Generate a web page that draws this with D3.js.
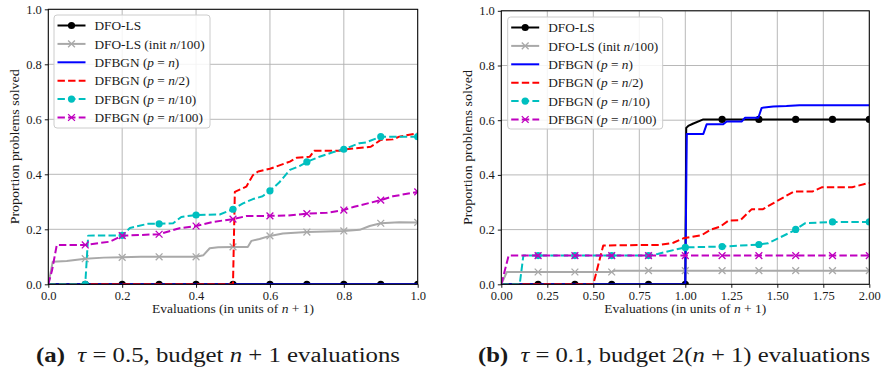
<!DOCTYPE html>
<html><head><meta charset="utf-8">
<script src="https://cdn.jsdelivr.net/npm/d3@7"></script>
<style>
body{margin:0;background:#fff}
svg{display:block}
text{font-family:"Liberation Serif","Times New Roman",serif;fill:#1a1a1a}
</style>
</head><body>
<svg id="chart" width="881" height="368"></svg>
<script>
// ---------- data ----------
const seriesLabels = [
  "DFO-LS",
  "DFO-LS (init <i>n</i>/100)",
  "DFBGN (<i>p</i> = <i>n</i>)",
  "DFBGN (<i>p</i> = <i>n</i>/2)",
  "DFBGN (<i>p</i> = <i>n</i>/10)",
  "DFBGN (<i>p</i> = <i>n</i>/100)"
];
const seriesColors = ["#000000", "#a9a9a9", "#0000ff", "#ff0000", "#00bfbf", "#bf00bf"];
const seriesDash = [null, null, null, "7.4,3.2", "7.4,3.2", "7.4,3.2"];
const seriesMarker = ["o", "x", null, null, "o", "x"];

const yTicks = [0, 0.2, 0.4, 0.6, 0.8, 1.0];
const xTicksA = [0, 0.2, 0.4, 0.6, 0.8, 1.0];
const xTicksB = [0, 0.25, 0.5, 0.75, 1.0, 1.25, 1.5, 1.75, 2.0];
const markerXA = [0.1, 0.2, 0.3, 0.4, 0.5, 0.6, 0.7, 0.8, 0.9, 1.0];
const markerXB = [0.2, 0.4, 0.6, 0.8, 1.0, 1.2, 1.4, 1.6, 1.8, 2.0];

// panel (a): tau = 0.5, budget n+1
const a_dfols = [[0,0],[1,0]];
const a_dfolsInit = [[0,0],[0.012,0.082],[0.05,0.085],[0.1,0.093],[0.15,0.097],[0.2,0.098],[0.25,0.1],[0.3,0.1],[0.4,0.1],[0.42,0.106],[0.437,0.131],[0.46,0.135],[0.5,0.136],[0.54,0.136],[0.55,0.158],[0.572,0.165],[0.6,0.176],[0.635,0.185],[0.7,0.19],[0.8,0.194],[0.843,0.198],[0.87,0.212],[0.9,0.222],[0.95,0.226],[1.0,0.225]];
const a_dfbgnN = [[0,0],[1,0]];
const a_dfbgnHalf = [[0,0],[0.5,0],[0.505,0.336],[0.536,0.355],[0.554,0.397],[0.568,0.41],[0.6,0.42],[0.654,0.446],[0.672,0.46],[0.708,0.464],[0.72,0.486],[0.788,0.486],[0.806,0.491],[0.873,0.5],[0.9,0.525],[0.933,0.527],[0.95,0.537],[1.0,0.549]];
const a_dfbgnTenth = [[0,0],[0.1,0],[0.108,0.177],[0.2,0.178],[0.221,0.205],[0.27,0.22],[0.3,0.22],[0.338,0.222],[0.36,0.245],[0.4,0.252],[0.464,0.254],[0.5,0.273],[0.527,0.294],[0.554,0.31],[0.58,0.32],[0.6,0.34],[0.625,0.37],[0.654,0.416],[0.68,0.43],[0.7,0.445],[0.734,0.464],[0.77,0.48],[0.8,0.491],[0.842,0.513],[0.86,0.516],[0.9,0.537],[1.0,0.537]];
const a_dfbgnHundredth = [[0,0],[0.01,0.05],[0.023,0.143],[0.1,0.143],[0.167,0.155],[0.2,0.177],[0.3,0.182],[0.355,0.204],[0.4,0.212],[0.446,0.227],[0.5,0.237],[0.536,0.248],[0.6,0.249],[0.65,0.25],[0.7,0.257],[0.754,0.26],[0.8,0.27],[0.828,0.282],[0.9,0.306],[0.933,0.32],[1.0,0.336]];

// panel (b): tau = 0.1, budget 2(n+1)
const b_dfols = [[0,0],[1.0,0],[1.005,0.572],[1.016,0.579],[1.044,0.588],[1.098,0.603],[2.0,0.603]];
const b_dfolsInit = [[0,0],[0.03,0.045],[0.6,0.045],[0.618,0.05],[2.0,0.05]];
const b_dfbgnN = [[0,0],[1.0,0],[1.008,0.55],[1.098,0.55],[1.116,0.585],[1.206,0.585],[1.225,0.595],[1.306,0.595],[1.325,0.609],[1.397,0.609],[1.415,0.645],[1.478,0.65],[1.55,0.652],[1.62,0.655],[2.0,0.655]];
const b_dfbgnHalf = [[0,0],[0.5,0],[0.554,0.142],[0.7,0.143],[0.862,0.144],[0.935,0.152],[0.989,0.168],[1.09,0.18],[1.135,0.199],[1.19,0.211],[1.235,0.233],[1.3,0.235],[1.36,0.274],[1.42,0.274],[1.492,0.302],[1.59,0.339],[1.69,0.339],[1.744,0.355],[1.907,0.355],[1.988,0.369],[2.0,0.37]];
const b_dfbgnTenth = [[0,0],[0.1,0],[0.12,0.105],[0.8,0.105],[0.85,0.111],[0.935,0.125],[1.0,0.135],[1.197,0.138],[1.395,0.145],[1.45,0.15],[1.59,0.196],[1.65,0.223],[1.79,0.228],[2.0,0.228]];
const b_dfbgnHundredth = [[0,0],[0.04,0.105],[2.0,0.105]];

const captionA = ["<b>(a)</b>", "\u2002", "<i>τ</i>", " = 0.5, budget ", "<i>n</i>", " + 1 evaluations"];
const captionB = ["<b>(b)</b>", "\u2002", "<i>τ</i>", " = 0.1, budget 2(", "<i>n</i>", " + 1) evaluations"];

// ---------- drawing ----------
const svg = d3.select("#chart");

function addRich(sel, markup) {
  const parts = markup.split(/(<i>.*?<\/i>|<b>.*?<\/b>)/).filter(s => s.length);
  parts.forEach(p => {
    const t = sel.append("tspan");
    if (p.startsWith("<i>")) t.attr("font-style", "italic").text(p.slice(3, -4));
    else if (p.startsWith("<b>")) t.attr("font-weight", "bold").text(p.slice(3, -4));
    else t.text(p);
  });
}

function interpY(data, x) {
  for (let i = 1; i < data.length; i++) {
    if (x <= data[i][0] + 1e-9) {
      const [x0, y0] = data[i - 1], [x1, y1] = data[i];
      return x1 === x0 ? y1 : y0 + (y1 - y0) * (x - x0) / (x1 - x0);
    }
  }
  return data[data.length - 1][1];
}

function drawMarker(g, kind, color, cx, cy) {
  if (kind === "o") {
    g.append("circle").attr("cx", cx).attr("cy", cy).attr("r", 3.6).attr("fill", color);
  } else if (kind === "x") {
    const s = 3.4;
    g.append("path").attr("d", `M${cx - s},${cy - s}L${cx + s},${cy + s}M${cx - s},${cy + s}L${cx + s},${cy - s}`)
      .attr("stroke", color).attr("stroke-width", 1.3).attr("fill", "none");
  }
}

function panel(cfg) {
  const x = d3.scaleLinear().domain(cfg.xDomain).range([cfg.left, cfg.right]);
  const y = d3.scaleLinear().domain([0, 1]).range([cfg.bottom, cfg.top]);
  const g = svg.append("g");

  // grid
  const grid = g.append("g");
  cfg.xTicks.forEach(t => grid.append("line").attr("x1", x(t)).attr("x2", x(t)).attr("y1", cfg.top).attr("y2", cfg.bottom)
    .attr("stroke", "#b0b0b0").attr("stroke-width", 0.9));
  yTicks.forEach(t => grid.append("line").attr("x1", cfg.left).attr("x2", cfg.right).attr("y1", y(t)).attr("y2", y(t))
    .attr("stroke", "#b0b0b0").attr("stroke-width", 0.9));

  // clip
  const clipId = "clip" + cfg.id;
  svg.append("clipPath").attr("id", clipId).append("rect")
    .attr("x", cfg.left).attr("y", cfg.top).attr("width", cfg.right - cfg.left).attr("height", cfg.bottom - cfg.top);
  const plot = g.append("g").attr("clip-path", `url(#${clipId})`);
  const line = d3.line().x(d => x(d[0])).y(d => y(d[1]));

  cfg.series.forEach((data, i) => {
    const sg = plot.append("g");
    const p = sg.append("path").attr("d", line(data)).attr("fill", "none")
      .attr("stroke", seriesColors[i]).attr("stroke-width", 2).attr("stroke-linejoin", "round");
    if (seriesDash[i]) p.attr("stroke-dasharray", seriesDash[i]);
    if (seriesMarker[i]) {
      cfg.markerX.forEach(mx => drawMarker(sg, seriesMarker[i], seriesColors[i], x(mx), y(interpY(data, mx))));
    }
  });

  // axes
  const xAxis = d3.axisBottom(x).tickValues(cfg.xTicks).tickFormat(d3.format(cfg.xFmt)).tickSize(3.5).tickPadding(3);
  const yAxis = d3.axisLeft(y).tickValues(yTicks).tickFormat(d3.format(".1f")).tickSize(3.5).tickPadding(3);
  const gx = g.append("g").attr("transform", `translate(0,${cfg.bottom})`).call(xAxis);
  const gy = g.append("g").attr("transform", `translate(${cfg.left},0)`).call(yAxis);
  [gx, gy].forEach(a => {
    a.attr("font-family", null);
    a.select(".domain").remove();
    a.selectAll("line").attr("stroke", "#000").attr("stroke-width", 0.9);
    a.selectAll("text").attr("font-size", 12.5).attr("fill", "#222");
  });
  g.append("rect").attr("x", cfg.left).attr("y", cfg.top).attr("width", cfg.right - cfg.left).attr("height", cfg.bottom - cfg.top)
    .attr("fill", "none").attr("stroke", "#000").attr("stroke-width", 1);

  // axis labels
  g.append("text").attr("transform", `translate(${cfg.ylabelX},${(cfg.top + cfg.bottom) / 2}) rotate(-90)`)
    .attr("text-anchor", "middle").attr("font-size", 13).attr("dy", "0.35em")
    .attr("textLength", 155).attr("lengthAdjust", "spacingAndGlyphs").text("Proportion problems solved");
  const xl = g.append("text").attr("x", (cfg.left + cfg.right) / 2).attr("y", 313).attr("text-anchor", "middle")
    .attr("font-size", 13).attr("textLength", 162).attr("lengthAdjust", "spacingAndGlyphs");
  addRich(xl, "Evaluations (in units of <i>n</i> + 1)");

  // legend
  const lg = g.append("g");
  lg.append("rect").attr("x", cfg.legX).attr("y", cfg.legY).attr("width", cfg.legW).attr("height", cfg.legH)
    .attr("rx", 3).attr("fill", "#fff").attr("fill-opacity", 0.85).attr("stroke", "#cccccc").attr("stroke-width", 1);
  seriesLabels.forEach((lab, i) => {
    const yy = cfg.legY + 10.5 + i * 18.4;
    const x0 = cfg.legX + 3.5, x1 = x0 + 28;
    const l = lg.append("line").attr("x1", x0).attr("x2", x1).attr("y1", yy).attr("y2", yy)
      .attr("stroke", seriesColors[i]).attr("stroke-width", 2);
    if (seriesDash[i]) l.attr("stroke-dasharray", seriesDash[i]);
    if (seriesMarker[i]) drawMarker(lg, seriesMarker[i], seriesColors[i], (x0 + x1) / 2, yy);
    const t = lg.append("text").attr("x", x1 + 9).attr("y", yy).attr("dy", "0.35em").attr("font-size", 13.3);
    addRich(t, lab);
  });

  // caption
  const cap = svg.append("text").attr("x", cfg.capX).attr("y", 362).attr("font-size", 20)
    .attr("textLength", cfg.capW).attr("lengthAdjust", "spacingAndGlyphs");
  cfg.caption.forEach(p => addRich(cap, p));
}

panel({
  id: "A", xDomain: [0, 1], xTicks: xTicksA, xFmt: ".1f", markerX: markerXA,
  left: 48.3, right: 417.7, top: 9.3, bottom: 284.3, ylabelX: 14,
  legX: 54, legY: 15, legW: 156, legH: 113,
  series: [a_dfols, a_dfolsInit, a_dfbgnN, a_dfbgnHalf, a_dfbgnTenth, a_dfbgnHundredth],
  caption: captionA, capX: 36, capW: 364
});
panel({
  id: "B", xDomain: [0, 2], xTicks: xTicksB, xFmt: ".2f", markerX: markerXB,
  left: 501.3, right: 869.3, top: 10.8, bottom: 284.3, ylabelX: 467,
  legX: 507.7, legY: 17, legW: 155, legH: 112,
  series: [b_dfols, b_dfolsInit, b_dfbgnN, b_dfbgnHalf, b_dfbgnTenth, b_dfbgnHundredth],
  caption: captionB, capX: 478, capW: 392
});
</script>
</body></html>
